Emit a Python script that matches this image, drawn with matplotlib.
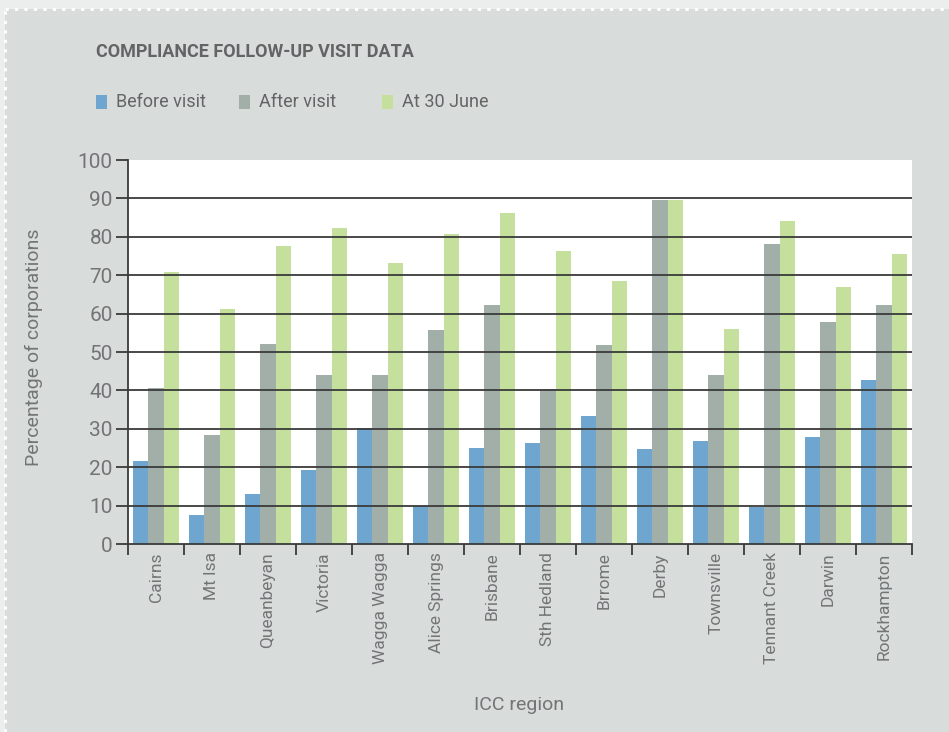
import matplotlib
matplotlib.use("Agg")
import matplotlib.pyplot as plt
from matplotlib.patches import Rectangle
import numpy as np

categories = ["Cairns", "Mt Isa", "Queanbeyan", "Victoria", "Wagga Wagga",
              "Alice Springs", "Brisbane", "Sth Hedland", "Brrome", "Derby",
              "Townsville", "Tennant Creek", "Darwin", "Rockhampton"]
before_visit = [21.6, 7.5, 13.0, 19.2, 30.1, 10.0, 25.0,
                26.3, 33.3, 24.7, 26.8, 9.6, 27.9, 42.7]
after_visit = [40.6, 28.4, 52.1, 44.0, 44.0, 55.8, 62.3,
               40.4, 51.9, 89.5, 44.0, 78.2, 57.9, 62.3]
at_30_june = [70.9, 61.3, 77.7, 82.4, 73.3, 80.6, 86.1,
              76.2, 68.6, 89.5, 56.0, 84.0, 67.0, 75.4]
series_names = ["Before visit", "After visit", "At 30 June"]
colors = ["#6fa6cf", "#a2aea8", "#c5df9c"]
yticks = list(range(0, 101, 10))

TXT = "#737476"
BG = "#d8dcdb"
plt.rcParams['font.family'] = ['Roboto', 'DejaVu Sans']

W, H = 949, 732
fig = plt.figure(figsize=(W / 100, H / 100), dpi=100)
fig.patch.set_facecolor("#eceeed")
# panel with dotted white border
fig.patches.append(Rectangle((5 / W, 0), 1, 1 - 9 / H, transform=fig.transFigure,
                             facecolor=BG, edgecolor="none", zorder=-5))
fig.add_artist(plt.Line2D([5 / W, 1], [1 - 9 / H, 1 - 9 / H], transform=fig.transFigure,
                          color="white", lw=2, ls=(0, (1.2, 2.2)), zorder=-4))
fig.add_artist(plt.Line2D([5 / W, 5 / W], [0, 1 - 9 / H], transform=fig.transFigure,
                          color="white", lw=2, ls=(0, (1.2, 2.2)), zorder=-4))

ax = fig.add_axes([128 / W, 188 / H, 784 / W, 384 / H])
ax.set_zorder(2)
ax.set_facecolor("white")

x = np.arange(len(categories))
bw = 0.275
for k, (vals, c) in enumerate(zip([before_visit, after_visit, at_30_june], colors)):
    ax.bar(x + (k - 1) * bw, vals, width=bw, color=c, edgecolor="none", zorder=2)

ax.set_xlim(-0.5, len(categories) - 0.5)
ax.set_ylim(0, 100)
for v in yticks[1:-1]:
    ax.axhline(v, color="#3a3a3a", lw=1.3, zorder=3)

ax.set_yticks(yticks)
ax.set_yticklabels([str(v) for v in yticks], fontsize=15, color=TXT, fontweight="normal")
ax.tick_params(axis="y", direction="out", length=9, width=1.3, color="#3a3a3a", pad=2)

ax.set_xticks(np.arange(-0.5, len(categories), 1.0))
ax.set_xticklabels([])
ax.tick_params(axis="x", which="major", direction="out", length=8, width=1.3, color="#3a3a3a")
ax.set_xticks(x, minor=True)
ax.set_xticklabels(categories, minor=True, rotation=90, fontsize=12.5, color=TXT,
                   fontweight="normal", va="top", ha="center")
ax.tick_params(axis="x", which="minor", length=0, pad=6)

for s in ["top", "right"]:
    ax.spines[s].set_visible(False)
for s in ["left", "bottom"]:
    ax.spines[s].set_color("#3a3a3a")
    ax.spines[s].set_linewidth(1.3)
    ax.spines[s].set_zorder(4)

fig.text(34 / W, 1 - 347 / H, "Percentage of corporations", rotation=90, fontsize=14,
         color=TXT, fontweight="normal", ha="center", va="center")
fig.text(519 / W, 1 - 705 / H, "ICC region", fontsize=14, color=TXT,
         fontweight="normal", ha="center", va="center")

fig.text(96 / W, 1 - 52 / H, "COMPLIANCE FOLLOW-UP VISIT DATA", fontsize=13,
         color="#636466", fontweight="bold", ha="left", va="center")

leg_x = [96, 239, 382]
for lx, name, c in zip(leg_x, series_names, colors):
    fig.patches.append(Rectangle((lx / W, 1 - 109 / H), 11 / W, 14 / H,
                                 transform=fig.transFigure, facecolor=c, edgecolor="none"))
    fig.text((lx + 20) / W, 1 - 102 / H, name, fontsize=13, color="#636466",
             ha="left", va="center")

fig.savefig("out.png", dpi=100, facecolor=fig.get_facecolor())
